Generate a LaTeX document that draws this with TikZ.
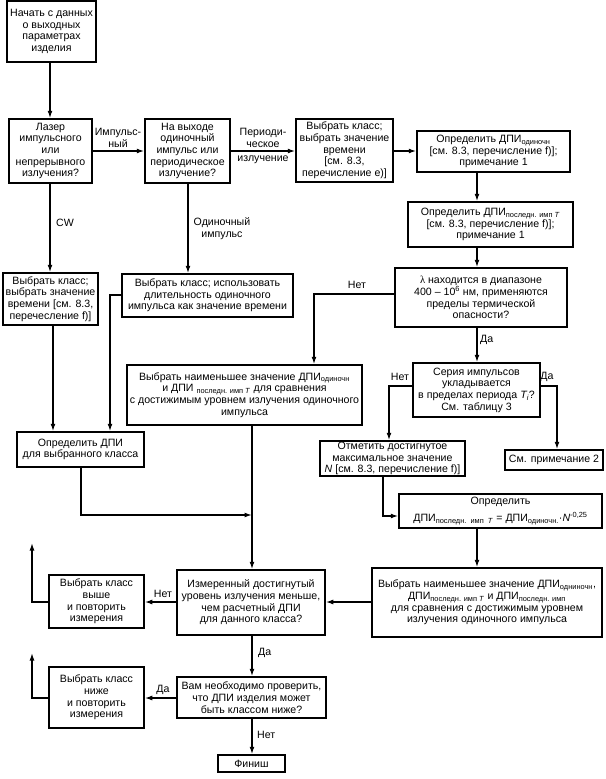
\documentclass[tikz,border=0pt]{standalone}
\usepackage{fontspec}
\setmainfont{Liberation Sans}
\newfontfamily\serifgr{Liberation Serif}
\usetikzlibrary{arrows.meta,calc}
\newcommand\fsz{\fontsize{10.6}{11.7}\selectfont}
\newcommand\mybox[6]{\node[box, minimum width={(#4)-(#2)}, minimum height={(#5)-(#3)}] (#1) at ({((#2)+(#4))/2},{((#3)+(#5))/2}) {#6};}
\tikzset{
 box/.style={draw, line width=1.5pt, inner sep=0.3pt, align=center, font=\fsz},
 arr/.style={line width=1.4pt, -{Latex[length=7.5pt,width=5pt]}},
 lbl/.style={font=\fsz, inner sep=1pt, align=center},
}
\begin{document}
\begin{tikzpicture}[x=1pt,y=-1pt]
\useasboundingbox (0,0) rectangle (605,779);
% boxes
\mybox{start}{7}{1}{96}{62}{Начать с данных\\о выходных\\параметрах\\изделия}
\mybox{laser}{9}{119}{92}{183}{Лазер\\импульсного\\или\\непрерывного\\излучения?}
\mybox{output}{145}{119}{230}{183}{На выходе\\одиночный\\импульс или\\периодическое\\излучение?}
\mybox{classE}{296}{119}{393}{182}{Выбрать класс;\\выбрать значение\\времени\\{}[см. 8.3,\\перечисление е)]}
\mybox{odin}{417}{131}{570}{172}{Определить ДПИ\textsubscript{одиночн}\\{}[см. 8.3, перечисление f)];\\примечание 1}
\mybox{posled}{408}{202}{573}{247}{Определить ДПИ\textsubscript{последн. имп \textit{T}}\\{}[см. 8.3, перечисление f)];\\примечание 1}
\mybox{lambda}{395}{268}{567}{327}{{\serifgr λ} находится в диапазоне\\400 – 10\textsuperscript{6} нм, применяются\\пределы термической\\опасности?}
\mybox{seria}{413}{363}{540}{417}{Серия импульсов\\укладывается\\в пределах периода \textit{T\textsubscript{i}}?\\См. таблицу 3}
\mybox{note}{505}{450}{603}{470}{См. примечание 2}
\mybox{otmet}{320}{441}{465}{476}{Отметить достигнутое\\максимальное значение\\\textit{N} [см. 8.3, перечисление f)]}
\mybox{formula}{399}{494}{602}{528}{Определить\\[5pt]ДПИ\textsubscript{последн.\ \ имп\ \ \textit{T}} = ДПИ\textsubscript{одиночн.}·\textit{N}\textsuperscript{-0,25}}
\mybox{vyb3}{372}{568}{602}{637}{Выбрать наименьшее значение ДПИ\textsubscript{одниночн},\\ДПИ\textsubscript{последн. имп \textit{T}} и ДПИ\textsubscript{последн. имп}\\для сравнения с достижимым уровнем\\излучения одиночного импульса}
\mybox{cw}{3}{273}{98}{325}{Выбрать класс;\\выбрать значение\\времени [см. 8.3,\\перечесление f)]}
\mybox{single}{122}{274}{293}{317}{Выбрать класс; использовать\\длительность одиночного\\импульса как значение времени}
\mybox{vyb2}{127}{365}{362}{425}{Выбрать наименьшее значение ДПИ\textsubscript{одиночн}\\и ДПИ \textsubscript{последн. имп \textit{T}} для сравнения\\с достижимым уровнем излучения одиночного\\импульса}
\mybox{opr}{17}{432}{144}{467}{Определить ДПИ\\для выбранного класса}
\mybox{izmer}{177}{570}{325}{635}{Измеренный достигнутый\\уровень излучения меньше,\\чем расчетный ДПИ\\для данного класса?}
\mybox{vyshe}{49}{575}{144}{628}{Выбрать класс\\выше\\и повторить\\измерения}
\mybox{vam}{177}{677}{326}{718}{Вам необходимо проверить,\\что ДПИ изделия может\\быть классом ниже?}
\mybox{nizhe}{49}{667}{144}{728}{Выбрать класс\\ниже\\и повторить\\измерения}
\mybox{finish}{218}{755}{285}{772}{Финиш}
% guide coordinates
\coordinate (xA) at (50,0);
\coordinate (xB) at (53,0);
\coordinate (xC) at (110,0);
\coordinate (xD) at (188,0);
\coordinate (xM) at (252,0);
\coordinate (xR) at (477,0);
\coordinate (xL) at (314,0);
\coordinate (xS) at (389,0);
\coordinate (xT) at (557,0);
\coordinate (xO) at (383,0);
\coordinate (xP) at (81,0);
\coordinate (yTop) at (0,151);
\coordinate (ySgl) at (0,295);
\coordinate (yLam) at (0,294);
\coordinate (ySer) at (0,386);
\coordinate (yOt) at (0,516);
\coordinate (yOp) at (0,515);
\coordinate (yIz) at (0,602);
\coordinate (yVm) at (0,698);
\coordinate (up1) at (32,543);
\coordinate (up2) at (32,653);
% connectors
\draw[arr] (start.south -| xA) -- (laser.north -| xA);
\draw[arr] (laser.east |- yTop) -- (output.west |- yTop);
\draw[arr] (output.east |- yTop) -- (classE.west |- yTop);
\draw[arr] (classE.east |- yTop) -- (odin.west |- yTop);
\draw[arr] (odin.south -| xR) -- (posled.north -| xR);
\draw[arr] (posled.south -| xR) -- (lambda.north -| xR);
\draw[arr] (laser.south -| xA) -- (cw.north -| xA);
\draw[arr] (output.south -| xD) -- (single.north -| xD);
\draw[arr] (single.west |- ySgl) -| (opr.north -| xC);
\draw[arr] (cw.south -| xB) -- (opr.north -| xB);
\draw[arr] (lambda.west |- yLam) -| (vyb2.north -| xL);
\draw[arr] (lambda.south -| xR) -- (seria.north -| xR);
\draw[arr] (seria.west |- ySer) -| (otmet.north -| xS);
\draw[arr] (seria.east |- ySer) -| (note.north -| xT);
\draw[arr] (otmet.south -| xO) |- (formula.west |- yOt);
\draw[arr] (formula.south -| xR) -- (vyb3.north -| xR);
\draw[arr] (vyb3.west |- yIz) -- (izmer.east |- yIz);
\draw[arr] (vyb2.south -| xM) -- (izmer.north -| xM);
\draw[arr] (opr.south -| xP) |- (xM |- yOp);
\draw[arr] (izmer.west |- yIz) -- (vyshe.east |- yIz);
\draw[arr] (vyshe.west |- yIz) -| (up1);
\draw[arr] (izmer.south -| xM) -- (vam.north -| xM);
\draw[arr] (vam.west |- yVm) -- (nizhe.east |- yVm);
\draw[arr] (nizhe.west |- yVm) -| (up2);
\draw[arr] (vam.south -| xM) -- (finish.north -| xM);
% labels
\node[lbl] (l1) at (118,138) {Импульс-\\ный};
\node[lbl] (l2) at (263,138) {Периоди-\\ческое};
\node[lbl] (l3) at (263,160) {излучение};
\node[lbl, anchor=west] (l4) at (55,223) {CW};
\node[lbl] (l5) at (222,229) {Одиночный\\импульс};
\node[lbl] (l6) at (357,285) {Нет};
\node[lbl, anchor=west] (l7) at (479,340) {Да};
\node[lbl] (l8) at (400,377) {Нет};
\node[lbl] (l9) at (547,377) {Да};
\node[lbl] (l10) at (163,594) {Нет};
\node[lbl, anchor=west] (l11) at (257,653) {Да};
\node[lbl] (l12) at (163,690) {Да};
\node[lbl, anchor=west] (l13) at (256,735) {Нет};
\end{tikzpicture}
\end{document}
